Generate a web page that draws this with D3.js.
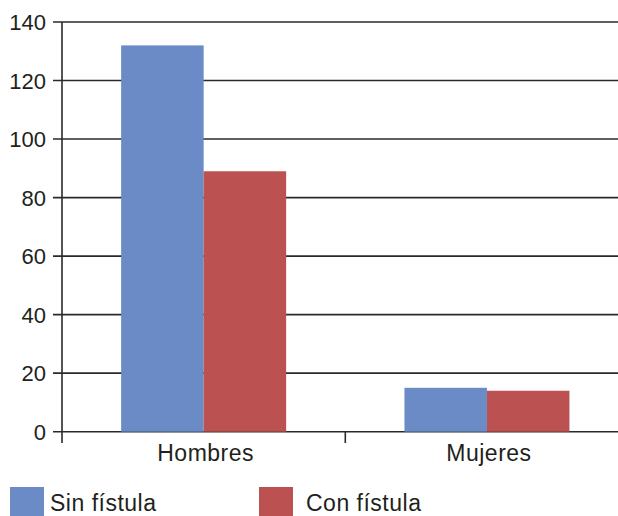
<!DOCTYPE html>
<html><head><meta charset="utf-8">
<script src="https://cdn.jsdelivr.net/npm/d3@7"></script>
<style>body{margin:0;background:#fff}svg{display:block}text{font-family:"Liberation Sans",Arial,sans-serif;fill:#231f20}</style>
</head><body>
<script>
const categories = ["Hombres", "Mujeres"];
const seriesNames = ["Sin fístula", "Con fístula"];
const sinFistula = [132, 15];
const conFistula = [89, 14];
const yTicks = [0, 20, 40, 60, 80, 100, 120, 140];
const colors = ["#6a8bc6", "#bc5151"];

const W = 618, H = 516;
const svg = d3.select("body").append("svg").attr("width", W).attr("height", H);
const x0 = 62, x1 = 628.6, yTop = 22, yBot = 431.7;
const y = d3.scaleLinear().domain([0, 140]).range([yBot, yTop]);
const x = d3.scaleBand().domain(categories).range([x0, x1]).paddingInner(0).paddingOuter(0);
const xs = d3.scaleBand().domain(seriesNames).range([0, x.bandwidth()]).paddingInner(0).paddingOuter(0.717);

// gridlines
svg.append("g").selectAll("line").data(yTicks).join("line")
  .attr("x1", 53).attr("x2", W).attr("y1", d => y(d)).attr("y2", d => y(d))
  .attr("stroke", "#2a2a2a").attr("stroke-width", 1.6);

const values = [sinFistula, conFistula];
seriesNames.forEach((s, si) => {
  svg.append("g").selectAll("rect").data(categories).join("rect")
    .attr("x", c => x(c) + xs(s))
    .attr("width", xs.bandwidth())
    .attr("y", (c, i) => y(values[si][i]))
    .attr("height", (c, i) => yBot - y(values[si][i]))
    .attr("fill", colors[si]);
});

// y axis
svg.append("line").attr("x1", x0).attr("x2", x0).attr("y1", yTop).attr("y2", 443)
  .attr("stroke", "#2a2a2a").attr("stroke-width", 1.6);
svg.append("g").selectAll("text").data(yTicks).join("text")
  .attr("x", 46).attr("y", d => y(d) + 8).attr("text-anchor", "end")
  .style("font-size", "22px").text(d => d);

// x category separator ticks
svg.append("line").attr("x1", x0 + x.bandwidth()).attr("x2", x0 + x.bandwidth())
  .attr("y1", yBot).attr("y2", 443).attr("stroke", "#2a2a2a").attr("stroke-width", 1.6);

svg.append("g").selectAll("text").data(categories).join("text")
  .attr("x", c => x(c) + x.bandwidth() / 2 + 2).attr("y", 461).attr("text-anchor", "middle")
  .style("font-size", "23px").style("letter-spacing", "0.5px").text(c => c);

// legend
const legX = [10, 259];
seriesNames.forEach((s, i) => {
  svg.append("rect").attr("x", legX[i]).attr("y", 487).attr("width", 34).attr("height", 32).attr("fill", colors[i]);
  svg.append("text").attr("x", legX[i] + 40 + (i ? 7 : 0)).attr("y", 511)
    .style("font-size", "23px").style("letter-spacing", "0.5px").text(s);
});
</script>
</body></html>
